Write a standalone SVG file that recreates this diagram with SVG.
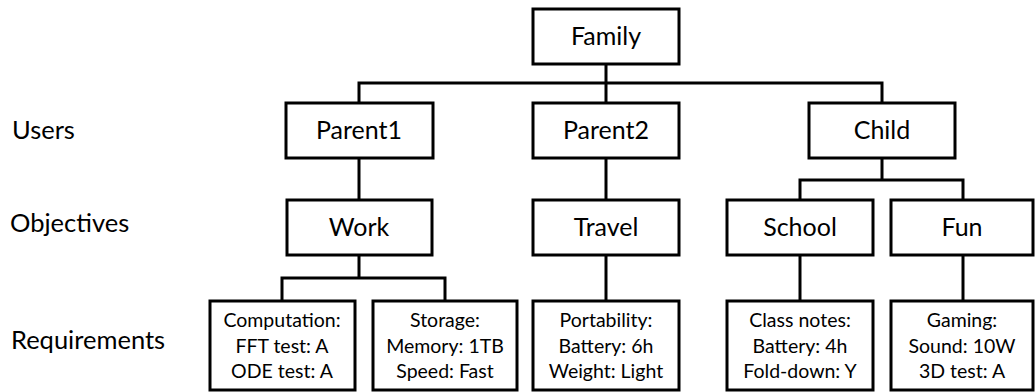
<svg xmlns="http://www.w3.org/2000/svg" width="1035" height="392" viewBox="0 0 1035 392">
  <style>
    .box { fill: #ffffff; stroke: #000000; stroke-width: 3; }
    .link { fill: none; stroke: #000000; stroke-width: 3; stroke-linejoin: miter; }
    .t { font-family: "Lato", "Liberation Sans", sans-serif; fill: #000000; text-anchor: middle; }
    .big { font-size: 25px; }
    .small { font-size: 19.5px; }
    .lvl { font-family: "Lato", "Liberation Sans", sans-serif; font-size: 25.5px; fill: #000000; }
  </style>
  <rect width="1035" height="392" fill="#ffffff"/>

  <!-- level captions -->
  <g id="levels">
    <text class="lvl" x="12" y="139">Users</text>
    <text class="lvl" x="10" y="232">Objectives</text>
    <text class="lvl" x="11" y="349">Requirements</text>
  </g>

  <!-- tree connectors -->
  <g id="connectors">
    <path class="link" d="M606 64 V83 M359 103 V83 H882 V103 M606 83 V103"/>
    <path class="link" d="M359 158 V200"/>
    <path class="link" d="M606 158 V200"/>
    <path class="link" d="M882 158 V180 M800 200 V180 H963 V200"/>
    <path class="link" d="M359 255 V278 M282 301 V278 H445 V301"/>
    <path class="link" d="M606 255 V301"/>
    <path class="link" d="M800 255 V301"/>
    <path class="link" d="M963 255 V301"/>
  </g>

  <g id="family">
    <rect class="box" x="533" y="9" width="146" height="55"/>
    <text class="t big" x="606" y="45">Family</text>
  </g>

  <g id="parent1">
    <rect class="box" x="286" y="103" width="147" height="55"/>
    <text class="t big" x="359" y="139">Parent1</text>
  </g>
  <g id="parent2">
    <rect class="box" x="533" y="103" width="146" height="55"/>
    <text class="t big" x="606" y="139">Parent2</text>
  </g>
  <g id="child">
    <rect class="box" x="809" y="103" width="146" height="55"/>
    <text class="t big" x="882" y="139">Child</text>
  </g>

  <g id="work">
    <rect class="box" x="287" y="200" width="145" height="55"/>
    <text class="t big" x="359" y="236">Work</text>
  </g>
  <g id="travel">
    <rect class="box" x="533" y="200" width="146" height="55"/>
    <text class="t big" x="606" y="236">Travel</text>
  </g>
  <g id="school">
    <rect class="box" x="727" y="200" width="146" height="55"/>
    <text class="t big" x="800" y="236">School</text>
  </g>
  <g id="fun">
    <rect class="box" x="891" y="200" width="142" height="55"/>
    <text class="t big" x="962" y="236">Fun</text>
  </g>

  <g id="computation">
    <rect class="box" x="210" y="301" width="145" height="89"/>
    <text class="t small" x="282" y="327">Computation:</text>
    <text class="t small" x="282" y="353">FFT test: A</text>
    <text class="t small" x="282" y="378">ODE test: A</text>
  </g>
  <g id="storage">
    <rect class="box" x="373" y="301" width="144" height="89"/>
    <text class="t small" x="445" y="327">Storage:</text>
    <text class="t small" x="445" y="353">Memory: 1TB</text>
    <text class="t small" x="445" y="378">Speed: Fast</text>
  </g>
  <g id="portability">
    <rect class="box" x="533" y="301" width="146" height="89"/>
    <text class="t small" x="606" y="327">Portability:</text>
    <text class="t small" x="606" y="353">Battery: 6h</text>
    <text class="t small" x="606" y="378">Weight: Light</text>
  </g>
  <g id="classnotes">
    <rect class="box" x="727" y="301" width="146" height="89"/>
    <text class="t small" x="800" y="327">Class notes:</text>
    <text class="t small" x="800" y="353">Battery: 4h</text>
    <text class="t small" x="800" y="378">Fold-down: Y</text>
  </g>
  <g id="gaming">
    <rect class="box" x="891" y="301" width="142" height="89"/>
    <text class="t small" x="962" y="327">Gaming:</text>
    <text class="t small" x="962" y="353">Sound: 10W</text>
    <text class="t small" x="962" y="378">3D test: A</text>
  </g>
</svg>
